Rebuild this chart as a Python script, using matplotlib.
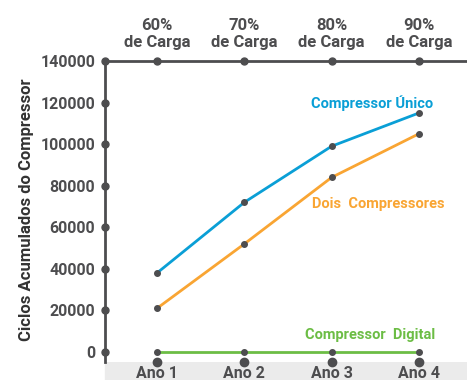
import matplotlib.pyplot as plt
from matplotlib.patches import Rectangle

plt.rcParams['font.family'] = ['Roboto', 'DejaVu Sans']

anos = ["Ano 1", "Ano 2", "Ano 3", "Ano 4"]
cargas = ["60%\nde Carga", "70%\nde Carga", "80%\nde Carga", "90%\nde Carga"]
unico = [38000, 72000, 99000, 115000]
dois = [21000, 52000, 84000, 105000]
digital = [0, 0, 0, 0]
yticks = [0, 20000, 40000, 60000, 80000, 100000, 120000, 140000]

dark = "#4d4d4f"
blue = "#0a9fd6"
orange = "#f9a533"
green = "#6cbd45"

fig = plt.figure(figsize=(4.67, 3.80), dpi=100)
ax = fig.add_axes([105 / 467, 18 / 380, 362 / 467, 301 / 380])
x = list(range(len(anos)))

# grey band under the chart
fig.add_artist(Rectangle((105 / 467, 0), 362 / 467, 18 / 380, transform=fig.transFigure,
                         color="#ebebeb", zorder=0))

ax.plot(x, unico, color=blue, lw=2, zorder=3)
ax.plot(x, dois, color=orange, lw=2, zorder=3)
ax.plot(x, digital, color=green, lw=2, zorder=3)
for s in (unico, dois, digital):
    ax.plot(x, s, "o", color=dark, ms=4, zorder=4)

ax.set_xlim(-0.595, 3.55)
ax.set_ylim(-4800, 140000)

for sp in ("right", "bottom"):
    ax.spines[sp].set_visible(False)
for sp in ("left", "top"):
    ax.spines[sp].set_color(dark)
    ax.spines[sp].set_linewidth(2)

# dots on the axes
ax.plot([-0.595] * len(yticks), yticks, "o", color=dark, ms=5, clip_on=False, zorder=5)
ax.plot(x, [140000] * len(x), "o", color=dark, ms=5, clip_on=False, zorder=5)
ax.plot(x, [-4800] * len(x), "o", color=dark, ms=6, clip_on=False, zorder=5)

ax.set_yticks(yticks)
ax.set_yticklabels([str(v) for v in yticks], fontsize=11.5, fontweight="bold", color=dark)
ax.set_xticks(x)
ax.set_xticklabels(anos, fontsize=11.5, fontweight="bold", color=dark)
ax.tick_params(axis="both", length=0)
ax.tick_params(axis="y", pad=7)
ax.tick_params(axis="x", pad=3)

for xi, c in zip(x, cargas):
    ax.text(xi, 145500, c, ha="center", va="bottom", fontsize=12, fontweight="bold",
            color=dark, linespacing=1.1)

ax.text(2.46, 119500, "Compressor Único", color=blue, fontsize=10.5, fontweight="bold",
        ha="center", va="center")
ax.text(2.53, 71000, "Dois  Compressores", color=orange, fontsize=10.5, fontweight="bold",
        ha="center", va="center")
ax.text(2.445, 8000, "Compressor  Digital", color=green, fontsize=10.5, fontweight="bold",
        ha="center", va="center")

fig.text(27 / 467, 1 - 210 / 380, "Ciclos Acumulados do Compressor", rotation=90,
         ha="center", va="center", fontsize=12, fontweight="bold", color="#333333")

fig.savefig("out.png", dpi=100)
